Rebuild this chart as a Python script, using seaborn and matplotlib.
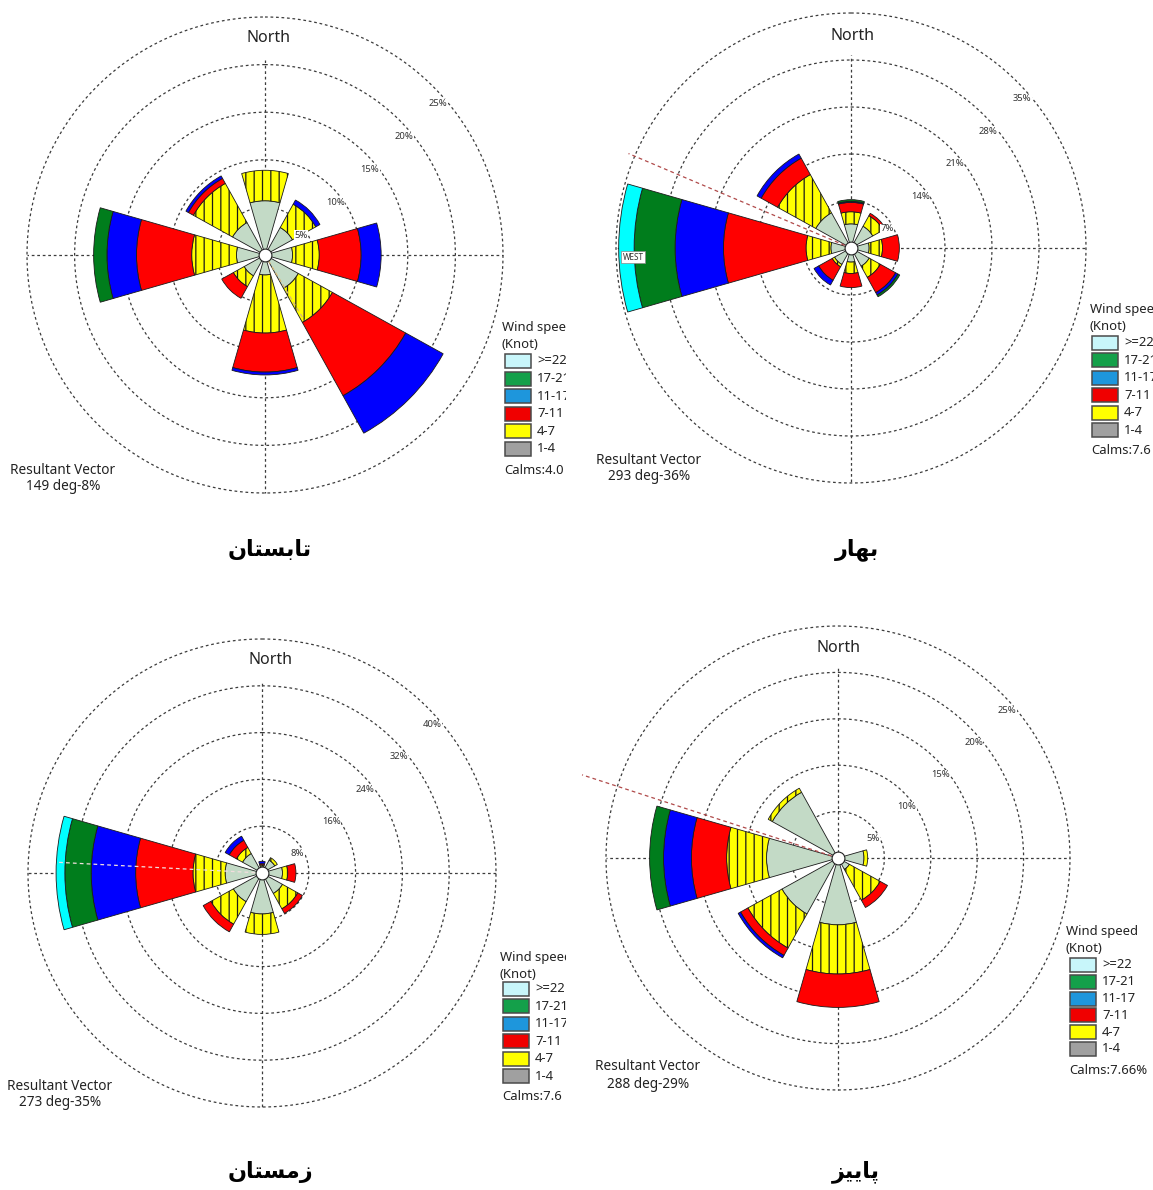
import numpy as np
import matplotlib
matplotlib.use("Agg")
import matplotlib.pyplot as plt
from matplotlib.patches import Rectangle
import seaborn as sns

sns.set_style("white")
plt.rcParams["font.family"] = ["Noto Sans", "DejaVu Sans"]
plt.rcParams["hatch.linewidth"] = 0.9

W_PX, H_PX = 1153, 1190

# ---------------------------------------------------------------- data
directions = ["N", "NE", "E", "SE", "S", "SW", "W", "NW"]
dir_deg = [0, 45, 90, 135, 180, 225, 270, 315]
speed_classes = ["1-4", "4-7", "7-11", "11-17", "17-21", ">=22"]
legend_labels = [">=22", "17-21", "11-17", "7-11", "4-7", "1-4"]

# frequency (%) per speed class, directions ordered N .. NW
summer_1_4 = [5.7, 3.3, 2.9, 4.0, 2.1, 2.5, 3.0, 3.9]
summer_4_7 = [3.2, 2.8, 2.8, 4.1, 6.1, 1.3, 4.7, 4.7]
summer_7_11 = [0.0, 0.0, 4.4, 8.8, 4.1, 1.4, 5.8, 0.6]
summer_11_17 = [0.0, 0.5, 2.1, 4.5, 0.3, 0.0, 3.1, 0.3]
summer_17_21 = [0.0, 0.0, 0.0, 0.0, 0.0, 0.0, 1.4, 0.0]
summer_22 = [0.0, 0.0, 0.0, 0.0, 0.0, 0.0, 0.0, 0.0]

spring_1_4 = [3.6, 3.7, 2.7, 3.1, 2.1, 2.8, 3.0, 6.0]
spring_4_7 = [1.8, 1.8, 2.0, 1.9, 1.7, 0.4, 3.7, 6.5]
spring_7_11 = [1.4, 0.4, 2.5, 2.6, 2.1, 2.3, 12.3, 2.8]
spring_11_17 = [0.15, 0.0, 0.0, 0.4, 0.0, 0.8, 7.2, 0.7]
spring_17_21 = [0.25, 0.0, 0.0, 0.3, 0.0, 0.0, 6.1, 0.0]
spring_22 = [0.0, 0.0, 0.0, 0.0, 0.0, 0.0, 2.3, 0.0]

winter_1_4 = [1.2, 2.5, 3.5, 4.0, 7.0, 5.6, 6.3, 3.8]
winter_4_7 = [0.2, 0.5, 0.9, 3.0, 3.5, 4.4, 5.5, 1.2]
winter_7_11 = [0.2, 0.0, 1.4, 0.9, 0.0, 1.5, 9.8, 1.4]
winter_11_17 = [0.4, 0.0, 0.0, 0.0, 0.0, 0.0, 7.6, 0.8]
winter_17_21 = [0.0, 0.0, 0.0, 0.0, 0.0, 0.0, 4.5, 0.0]
winter_22 = [0.0, 0.0, 0.0, 0.0, 0.0, 0.0, 1.5, 0.0]

autumn_1_4 = [0.0, 0.0, 2.8, 1.4, 7.2, 6.9, 7.7, 8.1]
autumn_4_7 = [0.0, 0.0, 0.4, 3.8, 5.3, 4.2, 4.3, 0.5]
autumn_7_11 = [0.0, 0.0, 0.0, 0.9, 3.6, 0.9, 3.8, 0.0]
autumn_11_17 = [0.0, 0.0, 0.0, 0.0, 0.0, 0.3, 3.0, 0.0]
autumn_17_21 = [0.0, 0.0, 0.0, 0.0, 0.0, 0.0, 1.5, 0.0]
autumn_22 = [0.0, 0.0, 0.0, 0.0, 0.0, 0.0, 0.0, 0.0]

ring_ticks_summer = [5, 10, 15, 20, 25]
ring_ticks_spring = [7, 14, 21, 28, 35]
ring_ticks_winter = [8, 16, 24, 32, 40]
ring_ticks_autumn = [5, 10, 15, 20, 25]

resultant_dir = {"summer": 149, "spring": 293, "winter": 273, "autumn": 288}
resultant_pct = {"summer": 8, "spring": 36, "winter": 35, "autumn": 29}
calms_text = {"summer": "Calms:4.0", "spring": "Calms:7.6",
              "winter": "Calms:7.6", "autumn": "Calms:7.66%"}

# Persian season names (joined letter forms, visual order)
season_title = {
    "summer": "\uFEE5\uFE8E\uFE98\uFEB4\uFE91\uFE8E\uFE97",   # تابستان
    "spring": "\uFEAD\uFE8E\uFEEC\uFE91",                     # بهار
    "winter": "\uFEE5\uFE8E\uFE98\uFEB4\uFEE3\uFEAF",         # زمستان
    "autumn": "\uFEB0\uFBFF\uFBFE\uFE8E\uFB58",               # پاییز
}

# ---------------------------------------------------------------- styling
rose_colors = sns.color_palette(["#c3dac6", "#ffff00", "#ff0000",
                                 "#0000ff", "#007d1c", "#00ffff"])
legend_colors = sns.color_palette(["#c8f6fa", "#14a04a", "#1e96dc",
                                   "#f00000", "#ffff00", "#a0a0a0"])

panels = {
    "summer": dict(cx=265, cy=255, R=238, ticks=ring_ticks_summer,
                   data=[summer_1_4, summer_4_7, summer_7_11, summer_11_17,
                         summer_17_21, summer_22],
                   north=(269, 38), res_txt=(63, 470), title=(270, 549),
                   leg=(502, 328, 505, 361, 17.6), clip=566,
                   res_color="#d8b878"),
    "spring": dict(cx=851, cy=248, R=235, ticks=ring_ticks_spring,
                   data=[spring_1_4, spring_4_7, spring_7_11, spring_11_17,
                         spring_17_21, spring_22],
                   north=(852, 36), res_txt=(649, 460), title=(857, 550),
                   leg=(1090, 310, 1092, 343, 17.4), clip=1153,
                   res_color="#b04a4a"),
    "winter": dict(cx=262, cy=873, R=234, ticks=ring_ticks_winter,
                   data=[winter_1_4, winter_4_7, winter_7_11, winter_11_17,
                         winter_17_21, winter_22],
                   north=(270, 660), res_txt=(60, 1086), title=(270, 1172),
                   leg=(500, 957, 503, 989, 17.4), clip=566,
                   res_color="#f2dede"),
    "autumn": dict(cx=838, cy=858, R=232, ticks=ring_ticks_autumn,
                   data=[autumn_1_4, autumn_4_7, autumn_7_11, autumn_11_17,
                         autumn_17_21, autumn_22],
                   north=(838, 648), res_txt=(648, 1067), title=(856, 1172),
                   leg=(1066, 932, 1070, 965, 16.8), clip=None,
                   res_color="#b04a4a"),
}

fig = plt.figure(figsize=(W_PX / 100, H_PX / 100), dpi=100)
fig.patch.set_facecolor("white")

ov = fig.add_axes([0, 0, 1, 1], zorder=10)
ov.set_xlim(0, W_PX)
ov.set_ylim(H_PX, 0)
ov.axis("off")
ov.patch.set_alpha(0)

grid_kw = dict(color="#3c3c3c", lw=0.9, ls=(0, (2.2, 2.2)), zorder=1)
sector_width = np.deg2rad(32)
theta = np.deg2rad(dir_deg)
TXT = "#222222"

for key, p in panels.items():
    cx, cy, R = p["cx"], p["cy"], p["R"]
    rmax = p["ticks"][-1]
    ax = fig.add_axes([(cx - R) / W_PX, (H_PX - cy - R) / H_PX,
                       2 * R / W_PX, 2 * R / H_PX], projection="polar")
    ax.set_theta_zero_location("N")
    ax.set_theta_direction(-1)
    ax.set_ylim(0, rmax)
    ax.axis("off")

    # dashed range rings and compass lines
    circ = np.linspace(0, 2 * np.pi, 500)
    for r in p["ticks"]:
        ax.plot(circ, np.full_like(circ, r), clip_on=False, **grid_kw)
    for ang in (90, 180, 270):
        ax.plot([np.deg2rad(ang)] * 2, [0, rmax], clip_on=False, **grid_kw)
    ax.plot([0, 0], [0, 0.82 * rmax], clip_on=False, **grid_kw)

    # stacked speed-class sectors
    freq = np.array(p["data"])
    tops = np.cumsum(freq, axis=0)
    bottoms = tops - freq
    for k in range(len(speed_classes)):
        for i in range(len(directions)):
            h = freq[k, i]
            if h <= 0:
                continue
            ax.bar(theta[i], h, width=sector_width, bottom=bottoms[k, i],
                   color=rose_colors[k], edgecolor="#1a1a1a", linewidth=0.6,
                   hatch="||" if k == 1 else None, zorder=3)

    # resultant vector
    rd = np.deg2rad(resultant_dir[key])
    ax.plot([rd, rd], [0, resultant_pct[key]], color=p["res_color"], lw=0.9,
            ls=(0, (3, 2.5)), clip_on=False, zorder=4)

    # calm circle
    ax.scatter([0], [0], s=85, color="white", edgecolors="#222222",
               linewidths=0.8, zorder=6, clip_on=False)

    # ring labels
    for t in p["ticks"]:
        rp = t / rmax * R
        ov.text(cx + 0.72 * rp + 2, cy - 0.69 * rp + 13, f"{t}%",
                fontsize=6.8, color="#333333", ha="center", va="center",
                bbox=dict(fc="white", ec="none", pad=0.3))

    ov.text(*p["north"], "North", fontsize=11.5, color=TXT,
            ha="center", va="center")
    rx, ry = p["res_txt"]
    ov.text(rx, ry, "Resultant Vector", fontsize=9.8, color=TXT,
            ha="center", va="center")
    ov.text(rx, ry + 17, f"{resultant_dir[key]} deg-{resultant_pct[key]}%",
            fontsize=9.8, color=TXT, ha="center", va="center")

    # legend block
    tx, ty, bx, by0, step = p["leg"]
    clip_rect = None
    if p["clip"] is not None:
        clip_rect = Rectangle((0, 0), p["clip"], H_PX, transform=ov.transData)
    arts = []
    arts.append(ov.text(tx, ty, "Wind speed", fontsize=9.4, color=TXT,
                        ha="left", va="center"))
    arts.append(ov.text(tx, ty + 17, "(Knot)", fontsize=9.4, color=TXT,
                        ha="left", va="center"))
    for j, (lab, col) in enumerate(zip(legend_labels, legend_colors)):
        yy = by0 + j * step
        rect = Rectangle((bx, yy - 7), 26, 14, facecolor=col,
                         edgecolor="#4a4a4a", lw=1.1)
        ov.add_patch(rect)
        arts.append(rect)
        arts.append(ov.text(bx + 32, yy, lab, fontsize=9.4, color=TXT,
                            ha="left", va="center"))
    arts.append(ov.text(bx - 1, by0 + 5 * step + 21, calms_text[key],
                        fontsize=9.4, color=TXT, ha="left", va="center"))
    if clip_rect is not None:
        for a in arts:
            a.set_clip_on(True)
            a.set_clip_path(clip_rect)

    # season title
    ov.text(*p["title"], season_title[key], fontsize=16, fontweight="bold",
            family=["DejaVu Sans"], color="black", ha="center", va="center")

# direction tag on the long westerly sector of the spring rose
ov.text(633, 257, "WEST", fontsize=5.8, color="#333333", ha="center",
        va="center", bbox=dict(fc="white", ec="#888888", lw=0.5, pad=0.8))

fig.savefig("out.png", dpi=100, facecolor="white")
